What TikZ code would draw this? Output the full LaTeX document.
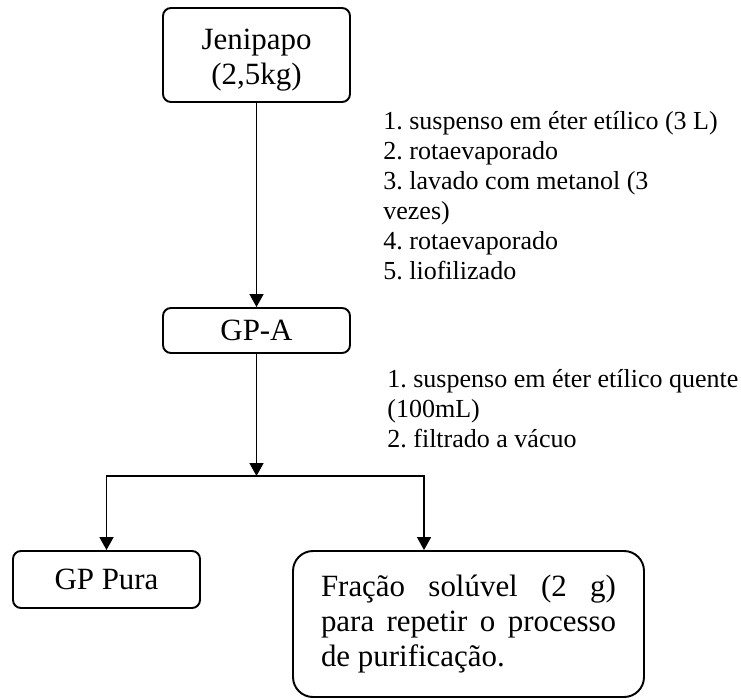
\documentclass[tikz,border=0pt]{standalone}
\usepackage{fontspec}
\setmainfont{Liberation Serif}
\frenchspacing
\usetikzlibrary{positioning,arrows.meta}
\tikzstyle{etapa}=[rectangle, draw=black, rounded corners=0.16cm, line width=1.1pt, fill=white,
        text centered, inner sep=0pt, font=\fontsize{17.6}{19.9}\selectfont]
\tikzstyle{nota}=[anchor=base west, align=left, inner sep=0pt, font=\fontsize{14.8}{17.07}\selectfont]
\tikzstyle{seta}=[-{Triangle[width=0.28cm,length=0.26cm]}, line width=0.9pt]

\begin{document}
\begin{tikzpicture}
\useasboundingbox (0,0) rectangle (14.82,-13.98);
\node[etapa, minimum width=3.74cm, minimum height=1.88cm, align=center] (jen) at (5.13,-1.10) {\rule{0pt}{18pt}Jenipapo\\(2,5kg)};
\node[etapa, minimum width=3.74cm, minimum height=0.9cm] (gpa) at (5.13,-6.61) {GP-A};
\node[etapa, minimum width=3.74cm, minimum height=1.14cm] (gpp) at (2.13,-11.59) {GP Pura};
\node[etapa, rounded corners=0.4cm, minimum width=7.02cm, minimum height=2.92cm, text width=5.9cm, align=justify] (frac) at (9.37,-12.48) {Fração solúvel (2 g)\linebreak para repetir o processo\linebreak de purificação.};
\node[nota] (notaA) at (7.66,-5.58) {1. suspenso em éter etílico (3 L)\\2. rotaevaporado\\3. lavado com metanol (3\\vezes)\\4. rotaevaporado\\5. liofilizado};
\node[nota] (notaB) at (7.74,-8.94) {1. suspenso em éter etílico quente\\(100mL)\\2. filtrado a vácuo};
\coordinate (split) at (5.13,-9.52);
\coordinate (esq) at (gpp.north |- split);
\coordinate (dir) at (8.48,-9.52);
\draw[seta] (jen.south) -- (gpa.north);
\draw[seta] (gpa.south) -- (split);
\draw[seta] (split) -- (esq) -- (gpp.north);
\draw[seta] (split) -- (dir) -- (dir |- frac.north);
\end{tikzpicture}
\end{document}
